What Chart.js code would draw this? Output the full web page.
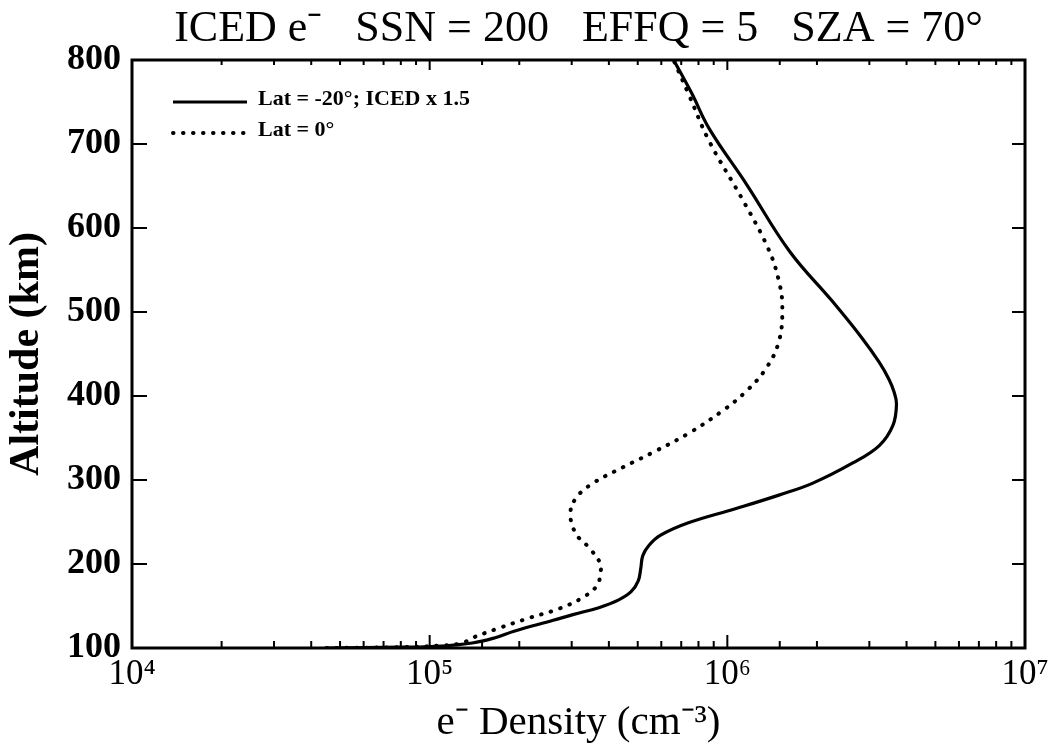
<!DOCTYPE html>
<html>
<head>
<meta charset="utf-8">
<title>ICED e- density</title>
<script src="https://cdn.jsdelivr.net/npm/chart.js@4"></script>
<style>
  body { margin: 0; background: #fff; }
  #wrap { width: 1058px; height: 752px; }
</style>
</head>
<body>
<div id="wrap"><canvas id="chart"></canvas></div>
<script>
'use strict'

// altitude (km) and electron density (cm^-3)
let altSouth = [100, 101, 102, 106, 112, 120, 133, 140, 148, 157, 167, 180, 195, 210, 222, 234, 249, 266, 282, 296, 320, 341, 365, 390, 405, 420, 440, 470, 513, 572, 652, 718, 760, 800];
let densSouth = [4.5e4, 8.0e4, 1.05e5, 1.39e5, 1.65e5, 1.92e5, 2.6e5, 3.05e5, 3.7e5, 4.3e5, 4.75e5, 5.02e5, 5.12e5, 5.2e5, 5.45e5, 5.95e5, 7.4e5, 1.07e6, 1.49e6, 1.93e6, 2.63e6, 3.24e6, 3.6e6, 3.7e6, 3.63e6, 3.49e6, 3.24e6, 2.82e6, 2.25e6, 1.62e6, 1.16e6, 8.7e5, 7.6e5, 6.6e5];

let altEquator = [100, 101, 103, 106, 112, 124, 136, 147, 161, 175, 189, 200, 219, 236, 260, 279, 296, 315, 335, 356, 382, 406, 433, 465, 505, 537, 576, 635, 703, 760, 800];
let densEquator = [4.5e4, 8e4, 1.1e5, 1.29e5, 1.39e5, 1.72e5, 2.17e5, 2.73e5, 3.3e5, 3.66e5, 3.74e5, 3.75e5, 3.44e5, 3.1e5, 2.97e5, 3.11e5, 3.53e5, 4.45e5, 5.78e5, 7.45e5, 9.6e5, 1.16e6, 1.35e6, 1.49e6, 1.53e6, 1.49e6, 1.37e6, 1.12e6, 8.7e5, 7.4e5, 6.6e5];

let seriesLabels = ['Lat = -20\u00b0; ICED x 1.5', 'Lat = 0\u00b0'];
let altTicks = [100, 200, 300, 400, 500, 600, 700, 800];
let densTicks = [1e4, 1e5, 1e6, 1e7];

let serif = "'Liberation Serif', 'Times New Roman', serif";
let supDigits = { 4: '\u2074', 5: '\u2075', 6: '\u2076', 7: '\u2077' };

function isDecade(v) {
    return densTicks.some(d => Math.abs(v - d) / d < 1e-9);
}

function toPoints(alts, dens) {
    let pts = [];
    for (let i = 0; i < alts.length; i++) {
        pts.push({ x: dens[i], y: alts[i] });
    }
    return pts;
}

// frame with inward ticks on all four sides
let frameTicks = {
    id: 'frameTicks',
    afterDraw(chart) {
        let ctx = chart.ctx;
        let a = chart.chartArea;
        let xs = chart.scales.x;
        let ys = chart.scales.y;
        ctx.save();
        ctx.strokeStyle = '#000';
        ctx.lineWidth = 2;
        ctx.beginPath();
        xs.ticks.forEach(t => {
            let px = xs.getPixelForValue(t.value);
            let big = isDecade(t.value);
            ctx.moveTo(px, a.bottom);
            ctx.lineTo(px, a.bottom - (big ? 13 : 7));
            ctx.moveTo(px, a.top);
            ctx.lineTo(px, a.top + (big ? 10 : 5));
        });
        ys.ticks.forEach(t => {
            let py = ys.getPixelForValue(t.value);
            ctx.moveTo(a.left, py);
            ctx.lineTo(a.left + 15, py);
            ctx.moveTo(a.right, py);
            ctx.lineTo(a.right - 13, py);
        });
        ctx.stroke();
        ctx.lineWidth = 3;
        ctx.strokeRect(a.left, a.top, a.right - a.left, a.bottom - a.top);
        ctx.restore();
    }
};

// legend drawn inside the plot, top left
let insideLegend = {
    id: 'insideLegend',
    afterDraw(chart) {
        let ctx = chart.ctx;
        let a = chart.chartArea;
        ctx.save();
        chart.data.datasets.forEach((ds, i) => {
            let y = a.top + 42 + i * 31;
            ctx.beginPath();
            ctx.strokeStyle = ds.borderColor;
            ctx.lineWidth = ds.borderWidth;
            ctx.lineCap = ds.borderCapStyle || 'butt';
            ctx.setLineDash(ds.borderDash || []);
            ctx.moveTo(a.left + 41, y);
            ctx.lineTo(a.left + 115, y);
            ctx.stroke();
            ctx.setLineDash([]);
            ctx.fillStyle = '#000';
            ctx.font = 'bold 22px ' + serif;
            ctx.textBaseline = 'alphabetic';
            ctx.fillText(ds.label, a.left + 126, y + 3);
        });
        ctx.restore();
    }
};

let canvasElem = document.getElementById('chart');

let chartObj = {
    type: 'scatter',
    data: {
        datasets: [{
            label: seriesLabels[0],
            data: toPoints(altSouth, densSouth),
            showLine: true,
            borderColor: '#000',
            borderWidth: 3.2,
            pointRadius: 0,
            tension: 0.4
        },
        {
            label: seriesLabels[1],
            data: toPoints(altEquator, densEquator),
            showLine: true,
            borderColor: '#000',
            borderWidth: 4,
            borderDash: [0.5, 9.5],
            borderCapStyle: 'round',
            pointRadius: 0,
            tension: 0.4
        }]
    },
    options: {
        responsive: true,
        maintainAspectRatio: false,
        animation: false,
        layout: { padding: { left: 0, right: 33, top: 0, bottom: 0 } },
        scales: {
            x: {
                type: 'logarithmic',
                min: 1e4,
                max: 1e7,
                afterFit(scale) { scale.height = 104; },
                grid: { display: false, drawTicks: false },
                border: { display: false },
                ticks: {
                    autoSkip: false,
                    maxRotation: 0,
                    padding: 6,
                    color: '#000',
                    font: { family: serif, size: 35 },
                    callback(value) {
                        if (!isDecade(value)) return '';
                        return '10' + supDigits[Math.round(Math.log10(value))];
                    }
                },
                title: {
                    display: true,
                    text: 'e\u207b Density (cm\u207b\u00b3)',
                    color: '#000',
                    font: { family: serif, size: 41 },
                    padding: { top: 0, bottom: 4 }
                }
            },
            y: {
                min: 100,
                max: 800,
                afterBuildTicks(scale) {
                    scale.ticks = altTicks.map(v => ({ value: v }));
                },
                afterFit(scale) { scale.width = 132; },
                grid: { display: false, drawTicks: false },
                border: { display: false },
                ticks: {
                    padding: 11,
                    color: '#000',
                    font: { family: serif, size: 36, weight: 'bold' }
                },
                title: {
                    display: true,
                    text: 'Altitude (km)',
                    color: '#000',
                    font: { family: serif, size: 42, weight: 'bold' },
                    padding: { top: 2, bottom: 0 }
                }
            }
        },
        plugins: {
            legend: { display: false },
            tooltip: { enabled: false },
            title: {
                display: true,
                fullSize: false,
                text: 'ICED e\u207b   SSN = 200   EFFQ = 5   SZA = 70\u00b0',
                color: '#000',
                font: { family: serif, size: 44, weight: 'normal', lineHeight: '50px' },
                padding: { top: 4, bottom: 6 }
            }
        }
    },
    plugins: [frameTicks, insideLegend]
};

new Chart(canvasElem, chartObj);
</script>
</body>
</html>
